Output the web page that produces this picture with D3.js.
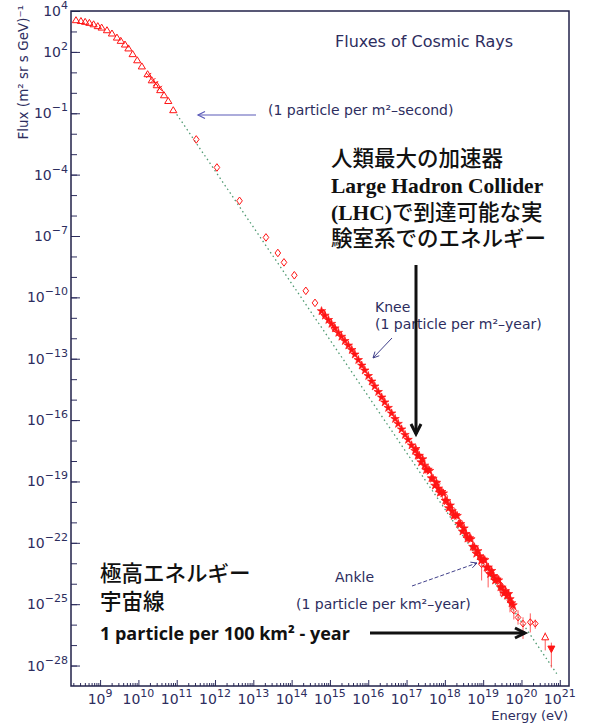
<!DOCTYPE html>
<html>
<head>
<meta charset="utf-8">
<script src="https://cdn.jsdelivr.net/npm/d3@7"></script>
<style>
body { margin: 0; background: #fff; }
</style>
</head>
<body>
<div id="chart"></div>
<script>
// values, all as log10: energy in eV, flux in (m2 sr s GeV)^-1
var triangleLogE = [8.37, 8.50, 8.61, 8.72, 8.83, 8.94, 9.04, 9.18, 9.31, 9.44, 9.54, 9.65,
    9.74, 9.85, 9.97, 10.09, 10.24, 10.35, 10.48, 10.57, 10.67, 10.78, 10.91];
var triangleLogFlux = [3.56, 3.52, 3.48, 3.43, 3.36, 3.27, 3.20, 3.07, 2.91, 2.71, 2.55, 2.37,
    2.18, 1.90, 1.60, 1.30, 0.92, 0.62, 0.38, 0.14, -0.11, -0.39, -0.84];

var crossLogE = [10.27, 10.38, 10.45, 10.55];
var crossLogFlux = [0.85, 0.60, 0.45, 0.22];

var diamondLogE = [11.51, 12.05, 12.64, 13.33, 13.64, 13.80, 14.07, 14.37, 14.61, 14.82, 15.11];
var diamondLogFlux = [-2.28, -3.65, -5.28, -7.07, -7.83, -8.29, -8.92, -9.68, -10.27, -10.77, -11.51];

var starLogE = [14.78, 14.87, 14.96, 15.04, 15.13, 15.22, 15.30, 15.39, 15.48, 15.57, 15.65, 15.74,
    15.83, 15.91, 16.00, 16.09, 16.17, 16.26, 16.35, 16.43, 16.52, 16.61, 16.70, 16.78, 16.87, 16.96,
    17.04, 17.13, 17.22,
    17.24, 17.29, 17.33, 17.38, 17.42, 17.47, 17.51, 17.56, 17.60, 17.65, 17.69, 17.74, 17.78, 17.83,
    17.87, 17.92, 17.96, 18.01, 18.05, 18.10, 18.14, 18.19, 18.23, 18.28, 18.32, 18.37, 18.41, 18.46,
    18.50, 18.55, 18.59, 18.64, 18.68, 18.73, 18.77, 18.82, 18.86, 18.91, 18.95, 19.00, 19.04, 19.09,
    19.13, 19.18, 19.22, 19.27, 19.31, 19.36, 19.40, 19.45, 19.49, 19.54, 19.58,
    19.62, 19.66, 19.70, 19.74, 19.78];
var starLogFlux = [-10.67, -10.89, -11.10, -11.29, -11.51, -11.73, -11.92, -12.13, -12.35, -12.57, -12.79, -13.06,
    -13.33, -13.57, -13.84, -14.11, -14.35, -14.62, -14.89, -15.13, -15.40, -15.67, -15.94, -16.18, -16.45, -16.72,
    -16.96, -17.23, -17.50,
    -17.41, -17.74, -17.74, -18.06, -17.91, -18.22, -18.44, -18.42, -18.48, -18.84, -18.86, -19.20, -19.06, -19.34,
    -19.55, -19.51, -19.58, -19.94, -19.96, -20.30, -20.17, -20.45, -20.68, -20.64, -20.68, -21.08, -21.08, -21.44,
    -21.29, -21.57, -21.79, -21.77, -21.82, -22.19, -22.21, -22.53, -22.40, -22.65, -22.86, -22.81, -22.84, -23.21,
    -23.20, -23.52, -23.37, -23.62, -23.84, -23.79, -23.83, -24.17, -24.18, -24.47, -24.36,
    -24.58, -24.50, -24.75, -24.95, -25.05];

var circleLogE = [17.80, 18.00, 18.20, 18.40, 18.60, 18.80, 19.00, 19.20, 19.35, 19.55];
var circleLogFlux = [-19.10, -19.75, -20.40, -21.02, -21.62, -22.30, -22.85, -23.40, -23.70, -24.30];

// points with error bars: [logE, logFlux, low, high]
var errorPoints = [
    [18.96, -23.05, -23.84, -22.70],
    [19.13, -23.40, -24.18, -23.00],
    [19.45, -24.05, -24.60, -23.70],
    [19.70, -24.82, -25.40, -24.40],
    [19.80, -25.31, -25.75, -25.00],
    [19.91, -25.65, -26.00, -25.30],
    [20.04, -25.95, -26.70, -25.64],
    [20.23, -25.88, -26.38, -25.45],
    [20.36, -25.95, -26.20, -25.75]
];
var openTrianglePoint = [20.62, -26.62, -27.26, -26.38];
var downTrianglePoint = [20.78, -27.17, -28.10, -26.88];

// dotted power-law guide
var fitLogE = [11.0, 20.92];
var fitLogFlux = [-1.05, -28.40];

var xTickExp = [9, 10, 11, 12, 13, 14, 15, 16, 17, 18, 19, 20, 21];
var yTickExp = [4, 2, -1, -4, -7, -10, -13, -16, -19, -22, -25, -28];

function FluxChart() {

    this.init = function() {
        this._config = {
            width: 594,
            height: 724,
            left: 71,
            right: 569,
            top: 11,
            bottom: 686,
            red: '#ff1414',
            navy: '#2d2d5e'
        };
        this._initElements();
        this._initScales();
        this._drawAxes();
        this._drawFit();
        this._drawData();
        this._drawNotes();
    };

    this._initElements = function() {
        this._rootNode = d3.select('#chart')
            .append('svg')
            .attr('width', this._config.width)
            .attr('height', this._config.height)
            .style('font-family', '"DejaVu Sans", sans-serif');
    };

    this._initScales = function() {
        var c = this._config;
        this._x = d3.scaleLog().domain([1.74e8, 1.74e21]).range([c.left, c.right]);
        this._y = d3.scaleLog().domain([1e-29, 1e4]).range([c.bottom, c.top]);
    };

    this._power = function(textSel, exp) {
        textSel.append('tspan').text('10');
        textSel.append('tspan')
            .attr('dy', -7)
            .attr('font-size', 11)
            .text(String(exp).replace('-', '\u2212'));
    };

    this._drawAxes = function() {
        var c = this._config, x = this._x, y = this._y, self = this;
        var svg = this._rootNode;

        var minors = [];
        for (var d = 8; d <= 20; d++) {
            for (var m = 2; m <= 9; m++) {
                var v = m * Math.pow(10, d);
                if (v > x.domain()[0] && v < x.domain()[1]) minors.push(v);
            }
        }
        var xMinor = svg.append('g')
            .attr('transform', 'translate(0,' + c.bottom + ')')
            .call(d3.axisBottom(x).tickValues(minors).tickSize(-3).tickFormat(''));
        var xMajor = svg.append('g')
            .attr('transform', 'translate(0,' + c.bottom + ')')
            .call(d3.axisBottom(x).tickValues(xTickExp.map(function(e) { return Math.pow(10, e); }))
                .tickSize(-6).tickFormat(''));
        [xMinor, xMajor].forEach(function(g) {
            g.select('.domain').remove();
            g.selectAll('line').attr('stroke', c.navy);
        });
        xTickExp.forEach(function(e) {
            var t = svg.append('text')
                .attr('x', x(Math.pow(10, e)))
                .attr('y', 704)
                .attr('text-anchor', 'middle')
                .attr('font-size', 14)
                .attr('fill', c.navy);
            self._power(t, e);
        });

        var yAll = d3.range(-28, 4).map(function(e) { return Math.pow(10, e); });
        var yMinor = svg.append('g')
            .attr('transform', 'translate(' + c.left + ',0)')
            .call(d3.axisLeft(y).tickValues(yAll).tickSize(-6).tickFormat(''));
        var yMajor = svg.append('g')
            .attr('transform', 'translate(' + c.left + ',0)')
            .call(d3.axisLeft(y).tickValues(yTickExp.map(function(e) { return Math.pow(10, e); }))
                .tickSize(-9).tickFormat(''));
        [yMinor, yMajor].forEach(function(g) {
            g.select('.domain').remove();
            g.selectAll('line').attr('stroke', c.navy);
        });
        yTickExp.forEach(function(e) {
            var t = svg.append('text')
                .attr('x', 68)
                .attr('y', y(Math.pow(10, e)) + 5)
                .attr('text-anchor', 'end')
                .attr('font-size', 14)
                .attr('fill', c.navy);
            self._power(t, e);
        });

        svg.append('rect')
            .attr('x', c.left).attr('y', c.top)
            .attr('width', c.right - c.left).attr('height', c.bottom - c.top)
            .attr('fill', 'none')
            .attr('stroke', '#22224a')
            .attr('stroke-width', 1.5);

        svg.append('text')
            .attr('transform', 'translate(28,5) rotate(-90)')
            .attr('text-anchor', 'end')
            .attr('font-size', 13.5)
            .attr('fill', c.navy)
            .text('Flux (m\u00b2 sr s GeV)\u207b\u00b9');

        svg.append('text')
            .attr('x', 568).attr('y', 720)
            .attr('text-anchor', 'end')
            .attr('font-size', 13)
            .attr('fill', c.navy)
            .text('Energy (eV)');

        svg.append('text')
            .attr('x', 335).attr('y', 47)
            .attr('font-size', 16)
            .attr('fill', c.navy)
            .text('Fluxes of Cosmic Rays');
    };

    this._pos = function(e, f) {
        return 'translate(' + this._x(Math.pow(10, e)) + ',' + this._y(Math.pow(10, f)) + ')';
    };

    this._pairs = function(es, fs) {
        return es.map(function(e, i) { return [e, fs[i]]; });
    };

    this._drawFit = function() {
        var x = this._x, y = this._y;
        var line = d3.line()
            .x(function(d) { return x(Math.pow(10, d[0])); })
            .y(function(d) { return y(Math.pow(10, d[1])); });
        this._rootNode.append('path')
            .attr('d', line(this._pairs(fitLogE, fitLogFlux)))
            .attr('fill', 'none')
            .attr('stroke', '#4f9a72')
            .attr('stroke-width', 1.3)
            .attr('stroke-dasharray', '1.5,3');
    };

    this._drawData = function() {
        var c = this._config, self = this, y = this._y, x = this._x;
        var g = this._rootNode.append('g');

        g.selectAll('path.tri').data(this._pairs(triangleLogE, triangleLogFlux))
            .enter().append('path')
            .attr('transform', function(d) { return self._pos(d[0], d[1]); })
            .attr('d', 'M0,-3.3L3.6,2.7L-3.6,2.7Z')
            .attr('fill', 'none').attr('stroke', c.red).attr('stroke-width', 1);

        g.selectAll('path.cross').data(this._pairs(crossLogE, crossLogFlux))
            .enter().append('path')
            .attr('transform', function(d) { return self._pos(d[0], d[1]); })
            .attr('d', 'M-2.5,-2.5L2.5,2.5M-2.5,2.5L2.5,-2.5')
            .attr('stroke', c.red).attr('stroke-width', 1);

        g.selectAll('path.dia').data(this._pairs(diamondLogE, diamondLogFlux))
            .enter().append('path')
            .attr('transform', function(d) { return self._pos(d[0], d[1]); })
            .attr('d', 'M0,-3.8L2.8,0L0,3.8L-2.8,0Z')
            .attr('fill', 'none').attr('stroke', c.red).attr('stroke-width', 1);

        var errs = errorPoints.concat([openTrianglePoint, downTrianglePoint]);
        g.selectAll('line.err').data(errs)
            .enter().append('line')
            .attr('x1', function(d) { return x(Math.pow(10, d[0])); })
            .attr('x2', function(d) { return x(Math.pow(10, d[0])); })
            .attr('y1', function(d) { return y(Math.pow(10, d[2])); })
            .attr('y2', function(d) { return y(Math.pow(10, d[3])); })
            .attr('stroke', '#ff5a5a').attr('stroke-width', 1);

        g.selectAll('circle.open').data(this._pairs(circleLogE, circleLogFlux))
            .enter().append('circle')
            .attr('transform', function(d) { return self._pos(d[0], d[1]); })
            .attr('r', 2.8)
            .attr('fill', 'none').attr('stroke', '#ff5050').attr('stroke-width', 1);

        var star = d3.symbol().type(d3.symbolStar).size(22);
        g.selectAll('path.star').data(this._pairs(starLogE, starLogFlux))
            .enter().append('path')
            .attr('transform', function(d) { return self._pos(d[0], d[1]); })
            .attr('d', star)
            .attr('fill', c.red).attr('stroke', c.red).attr('stroke-width', 0.7);

        g.selectAll('path.errdia').data(errorPoints)
            .enter().append('path')
            .attr('transform', function(d) { return self._pos(d[0], d[1]); })
            .attr('d', 'M0,-3.4L2.8,0L0,3.4L-2.8,0Z')
            .attr('fill', 'none').attr('stroke', c.red).attr('stroke-width', 1);

        g.append('path')
            .attr('transform', this._pos(openTrianglePoint[0], openTrianglePoint[1]))
            .attr('d', 'M0,-4L3.5,2.5L-3.5,2.5Z')
            .attr('fill', '#fff').attr('stroke', c.red).attr('stroke-width', 1);
        g.append('path')
            .attr('transform', this._pos(downTrianglePoint[0], downTrianglePoint[1]))
            .attr('d', 'M0,4L3.5,-2.5L-3.5,-2.5Z')
            .attr('fill', c.red).attr('stroke', c.red).attr('stroke-width', 1);
    };

    this._arrow = function(x1, y1, x2, y2, len, half, color, width, dash) {
        var a = Math.atan2(y2 - y1, x2 - x1);
        var bx = x2 - len * Math.cos(a), by = y2 - len * Math.sin(a);
        var nx = -Math.sin(a) * half, ny = Math.cos(a) * half;
        var g = this._rootNode.append('g')
            .attr('stroke', color).attr('stroke-width', width).attr('fill', 'none');
        g.append('line').attr('x1', x1).attr('y1', y1).attr('x2', x2).attr('y2', y2)
            .attr('stroke-dasharray', dash || null);
        g.append('path')
            .attr('d', 'M' + (bx + nx) + ',' + (by + ny) + 'L' + x2 + ',' + y2 + 'L' + (bx - nx) + ',' + (by - ny))
            .attr('stroke-linejoin', 'miter');
    };

    // latin runs bold serif, kana/kanji runs medium weight
    this._mixed = function(parent, x, y, str) {
        var t = parent.append('text').attr('x', x).attr('y', y);
        (str.match(/[\x00-\x7f]+|[^\x00-\x7f]+/g) || []).forEach(function(run) {
            var latin = /^[\x00-\x7f]/.test(run);
            t.append('tspan')
                .attr('font-weight', latin ? 'bold' : 500)
                .text(run);
        });
    };

    this._drawNotes = function() {
        var c = this._config, svg = this._rootNode, self = this;
        var note = function(x, y, txt) {
            svg.append('text').attr('x', x).attr('y', y)
                .attr('font-size', 14).attr('fill', c.navy).text(txt);
        };
        note(268, 115, '(1 particle per m\u00b2\u2013second)');
        note(375, 312, 'Knee');
        note(375, 329, '(1 particle per m\u00b2\u2013year)');
        note(335, 582, 'Ankle');
        note(296, 609, '(1 particle per km\u00b2\u2013year)');

        this._arrow(256, 115, 198, 115, 7, 3.5, '#5a5ab8', 1.2);
        this._arrow(392, 338, 373, 358, 6, 3, '#40408a', 1);
        this._arrow(412, 586, 477, 563, 6, 3, '#40408a', 1, '4,2');

        var jp = svg.append('g')
            .attr('font-family', '"Liberation Serif", "Noto Sans CJK JP", serif')
            .attr('font-size', 21.5)
            .attr('fill', '#111');
        ['人類最大の加速器', 'Large Hadron Collider', '(LHC)で到達可能な実', '験室系でのエネルギー']
            .forEach(function(t, i) {
                self._mixed(jp, 331, [166, 193, 220, 246][i], t);
            });
        self._mixed(jp, 100, 581, '極高エネルギー');
        self._mixed(jp, 100, 609, '宇宙線');

        svg.append('text')
            .attr('x', 100).attr('y', 640)
            .attr('font-family', '"Open Sans", sans-serif')
            .attr('font-weight', 'bold')
            .attr('font-size', 18)
            .attr('fill', '#111')
            .text('1 particle per 100 km\u00b2 - year');

        this._arrow(416, 265, 416, 434, 10, 5, '#111', 3);
        this._arrow(370, 633, 525, 633, 10, 5, '#111', 3);
    };

    this.init();
}

function initApp() {
    if (typeof(window.fluxChart) === 'undefined') {
        window.fluxChart = new FluxChart();
    }
}
document.addEventListener('DOMContentLoaded', initApp);
</script>
</body>
</html>
